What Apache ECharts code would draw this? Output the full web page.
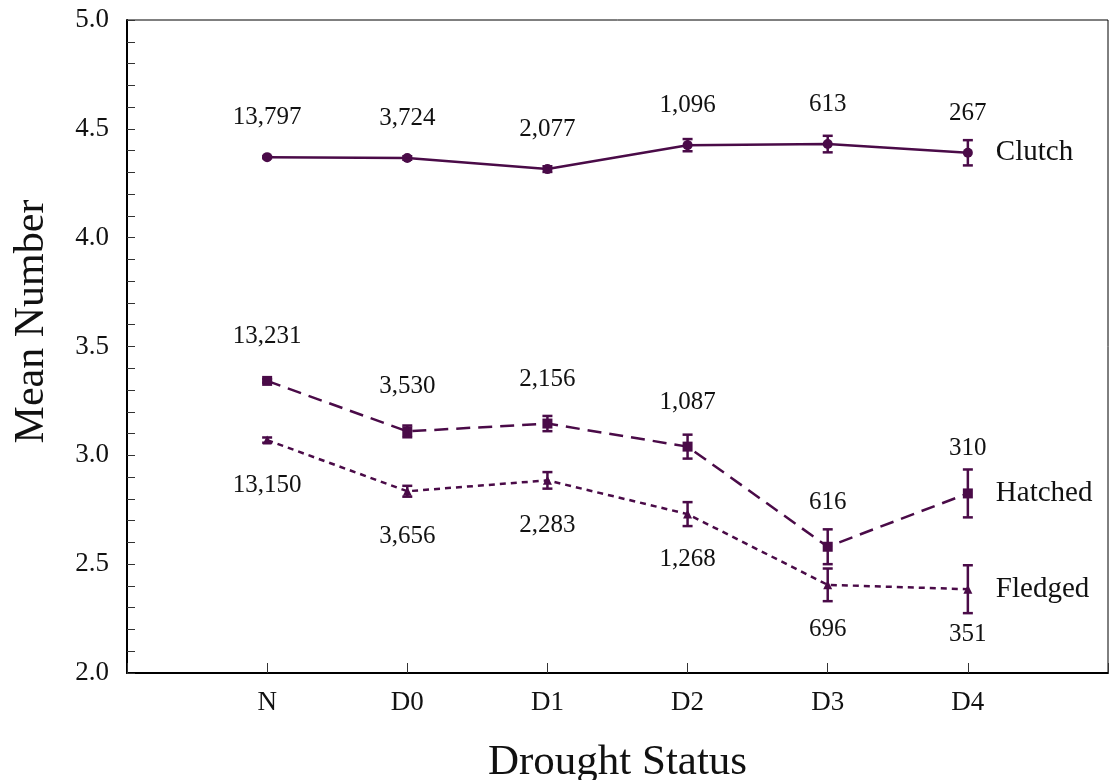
<!DOCTYPE html>
<html>
<head>
<meta charset="utf-8">
<script src="https://cdn.jsdelivr.net/npm/echarts@6/dist/echarts.min.js"></script>
<style>
  html, body { margin: 0; padding: 0; background: #fff; }
  #chart { width: 1115px; height: 780px; }
</style>
</head>
<body>
<div id="chart"></div>
<script>
  // drought categories on the x axis
  var categories = ['N', 'D0', 'D1', 'D2', 'D3', 'D4'];

  // mean values and standard errors
  var clutchMean = [4.37, 4.366, 4.315, 4.425, 4.43, 4.39];
  var clutchErr = [0.005, 0.008, 0.013, 0.028, 0.038, 0.058];
  var clutchN = ['13,797', '3,724', '2,077', '1,096', '613', '267'];

  var hatchedMean = [3.342, 3.11, 3.146, 3.04, 2.58, 2.825];
  var hatchedErr = [0.008, 0.027, 0.035, 0.055, 0.08, 0.11];
  var hatchedN = ['13,231', '3,530', '2,156', '1,087', '616', '310'];

  var fledgedMean = [3.07, 2.835, 2.885, 2.73, 2.405, 2.385];
  var fledgedErr = [0.012, 0.025, 0.038, 0.055, 0.075, 0.11];
  var fledgedN = ['13,150', '3,656', '2,283', '1,268', '696', '351'];

  var purple = '#4a0b48';
  var serif = '"Liberation Serif", "DejaVu Serif", serif';

  function points(means, ns) {
    return means.map(function (m, i) {
      return { value: [i, m], n: ns[i] };
    });
  }

  function errData(means, errs) {
    return means.map(function (m, i) {
      return [i, m - errs[i], m + errs[i]];
    });
  }

  // vertical bar with caps for each point
  function renderErr(params, api) {
    var lo = api.coord([api.value(0), api.value(1)]);
    var hi = api.coord([api.value(0), api.value(2)]);
    var w = 5;
    var st = { stroke: purple, lineWidth: 2.5 };
    return {
      type: 'group',
      children: [
        { type: 'line', shape: { x1: lo[0], y1: lo[1], x2: hi[0], y2: hi[1] }, style: st },
        { type: 'line', shape: { x1: lo[0] - w, y1: lo[1], x2: lo[0] + w, y2: lo[1] }, style: st },
        { type: 'line', shape: { x1: hi[0] - w, y1: hi[1], x2: hi[0] + w, y2: hi[1] }, style: st }
      ]
    };
  }

  function lineSeries(name, data, symbol, dash, labelPos, dist) {
    return {
      name: name,
      type: 'line',
      data: data,
      symbol: symbol,
      symbolSize: symbol === 'triangle' ? 9 : 10,
      itemStyle: { color: purple },
      lineStyle: { color: purple, width: 2.5, type: dash },
      label: {
        show: true,
        position: labelPos,
        distance: dist,
        color: '#111',
        fontFamily: serif,
        fontSize: 25,
        formatter: function (p) { return p.data.n; }
      },
      endLabel: {
        show: true,
        distance: 28,
        color: '#111',
        fontFamily: serif,
        fontSize: 29,
        formatter: name
      },
      z: 3
    };
  }

  function errSeries(data) {
    return {
      type: 'custom',
      renderItem: renderErr,
      data: data,
      encode: { x: 0, y: [1, 2] },
      silent: true,
      z: 4
    };
  }

  var chart = echarts.init(document.getElementById('chart'));
  chart.setOption({
    animation: false,
    backgroundColor: '#fff',
    grid: {
      left: 127,
      right: 7,
      top: 20,
      bottom: 107,
      outerBoundsMode: 'none',
      containLabel: false,
      show: true,
      borderColor: '#000',
      borderWidth: 1
    },
    xAxis: {
      type: 'value',
      min: -1,
      max: 6,
      interval: 1,
      name: 'Drought Status',
      nameLocation: 'middle',
      nameGap: 68,
      nameTextStyle: { fontFamily: serif, fontSize: 43, color: '#111' },
      axisLine: { onZero: false, lineStyle: { color: '#000', width: 2 } },
      axisTick: { show: true, inside: true, length: 10, lineStyle: { color: '#333', width: 1 } },
      axisLabel: {
        margin: 16,
        fontFamily: serif,
        fontSize: 27,
        color: '#111',
        formatter: function (v) { return categories[v] || ''; }
      },
      splitLine: { show: false }
    },
    yAxis: {
      type: 'value',
      min: 2,
      max: 5,
      interval: 0.5,
      name: 'Mean Number',
      nameLocation: 'middle',
      nameGap: 74,
      nameTextStyle: { fontFamily: serif, fontSize: 42, color: '#111', padding: [0, 0, 0, 50] },
      axisLine: { onZero: false, lineStyle: { color: '#000', width: 2 } },
      axisTick: { show: true, inside: true, length: 8, lineStyle: { color: '#333', width: 1 } },
      minorTick: { show: true, splitNumber: 5, length: 8, lineStyle: { color: '#333', width: 1 } },
      axisLabel: {
        margin: 18,
        fontFamily: serif,
        fontSize: 27,
        color: '#111',
        formatter: function (v) { return v.toFixed(1); }
      },
      splitLine: { show: false }
    },
    series: [
      lineSeries('Clutch', points(clutchMean, clutchN), 'circle', 'solid', 'top', 22),
      errSeries(errData(clutchMean, clutchErr)),
      lineSeries('Hatched', points(hatchedMean, hatchedN), 'rect', [14, 8], 'top', 27),
      errSeries(errData(hatchedMean, hatchedErr)),
      lineSeries('Fledged', points(fledgedMean, fledgedN), 'triangle', [6, 5], 'bottom', 28),
      errSeries(errData(fledgedMean, fledgedErr))
    ]
  });
</script>
</body>
</html>
